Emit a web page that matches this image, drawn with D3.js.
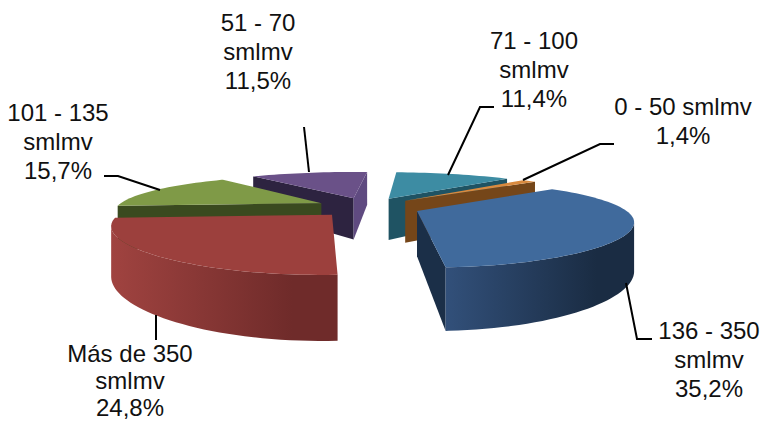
<!DOCTYPE html>
<html>
<head>
<meta charset="utf-8">
<script src="https://cdn.jsdelivr.net/npm/d3@7"></script>
<style>
  html, body { margin: 0; padding: 0; background: #fff; }
  svg { display: block; }
  text { font-family: "Liberation Sans", Arial, sans-serif; font-size: 24px; fill: #111; }
</style>
</head>
<body>
<svg id="chart" width="762" height="421"></svg>
<script>
// Salary bands, clockwise from the first slice of the pie
const categories = ["136 - 350 smlmv", "Más de 350 smlmv", "101 - 135 smlmv", "51 - 70 smlmv", "71 - 100 smlmv", "0 - 50 smlmv"];
const shares = [35.2, 24.8, 15.7, 11.5, 11.4, 1.4];
const labelLines = [
  ["136 - 350", "smlmv", "35,2%"],
  ["Más de 350", "smlmv", "24,8%"],
  ["101 - 135", "smlmv", "15,7%"],
  ["51 - 70", "smlmv", "11,5%"],
  ["71 - 100", "smlmv", "11,4%"],
  ["0 - 50 smlmv", "1,4%"]
];
const topColors = ["#406a9c", "#9c403d", "#7f9a47", "#6a5188", "#3d8ca3", "#d98a3f"];
const wallLight = ["#32507a", "#a04340", "#3a4a1f", "#2d2340", "#235a6b", "#754619"];
const wallDark  = ["#1a2c43", "#6f2b2a", "#3a4a1f", "#2d2340", "#1f4e5d", "#754619"];
// Radial wall that closes each slice on its clockwise side
const endWall   = ["#1b2f48", "#6f2b2a", "#3a4a1f", "#5f4a80", "#1f5363", "#754619"];

// Callout placement: label centre, first baseline, line gap and leader polyline
const labelLayout = [
  { x: 709, y: 339, gap: 29,   leader: [[626, 283], [637, 339], [652, 339]] },
  { x: 130, y: 362, gap: 27,   leader: [[156, 315], [156, 340]] },
  { x: 58,  y: 121, gap: 29,   leader: [[160, 190], [118, 176], [104, 176]] },
  { x: 258, y: 31,  gap: 29,   leader: [[309, 172], [304, 127]] },
  { x: 534, y: 49,  gap: 29,   leader: [[448, 175], [480, 107], [494, 107]] },
  { x: 683, y: 115, gap: 29,   leader: [[523, 180], [600, 144], [614, 144]] }
];

const svg = d3.select("#chart");
const defs = svg.append("defs");

// Ground-plane perspective: the disc has radius 1, Y points at the viewer
const view = { cx: 368, cy: 207, w: 205, h: 38, perspX: 0.21, perspY: 0.28, depth: 44, explode: 0.255 };
const firstAngle = 50 * Math.PI / 180;
const rimStep = Math.PI / 90;

const project = (X, Y, drop = 0) => {
  const kx = 1 / (1 - view.perspX * Y);
  const ky = 1 / (1 - view.perspY * Y);
  return [
    view.cx + view.w * X * kx,
    view.cy + view.h * Y * ky + drop * view.depth * ky
  ];
};

const pie = d3.pie().sort(null).startAngle(firstAngle).endAngle(firstAngle + 2 * Math.PI);
const slices = pie(shares).map((s, i) => {
  const mid = (s.startAngle + s.endAngle) / 2;
  const ox = view.explode * Math.sin(mid);
  const oy = -view.explode * Math.cos(mid);
  const angles = d3.range(s.startAngle, s.endAngle, rimStep).concat(s.endAngle);
  const rim = angles.map(a => [ox + Math.sin(a), oy - Math.cos(a)]);
  return { i, apex: [ox, oy], rim };
});

const line = d3.line();
const wallPath = pts => {
  const upper = pts.map(p => project(p[0], p[1]));
  const lower = pts.map(p => project(p[0], p[1], 1)).reverse();
  return line(upper.concat(lower)) + "Z";
};

// Slices are painted from the far side of the pie to the near side
const paintOrder = [3, 4, 2, 5, 0, 1];

paintOrder.forEach(idx => {
  const s = slices[idx];
  const g = svg.append("g").attr("class", "slice");
  const xs = s.rim.map(p => project(p[0], p[1])[0]);

  const grad = defs.append("linearGradient")
    .attr("id", "wall" + idx)
    .attr("gradientUnits", "userSpaceOnUse")
    .attr("x1", d3.min(xs)).attr("x2", d3.max(xs))
    .attr("y1", 0).attr("y2", 0);
  grad.append("stop").attr("offset", 0).attr("stop-color", wallLight[idx]);
  grad.append("stop").attr("offset", 0.8).attr("stop-color", wallDark[idx]);

  // An edge walked clockwise on screen faces the viewer when it runs leftward
  const faces = (a, b) => project(b[0], b[1])[0] < project(a[0], a[1])[0];

  const first = s.rim[0], last = s.rim[s.rim.length - 1];
  if (faces(s.apex, first)) {
    g.append("path").attr("d", wallPath([s.apex, first])).attr("fill", wallLight[idx]);
  }
  if (faces(last, s.apex)) {
    g.append("path").attr("d", wallPath([last, s.apex])).attr("fill", endWall[idx]);
  }

  // Curved outer wall: only the run of rim that faces the viewer
  const run = s.rim.filter((p, k) =>
    (k > 0 && faces(s.rim[k - 1], p)) || (k < s.rim.length - 1 && faces(p, s.rim[k + 1])));
  if (run.length > 1) {
    g.append("path").attr("d", wallPath(run)).attr("fill", `url(#wall${idx})`);
  }

  const top = [s.apex, ...s.rim].map(p => project(p[0], p[1]));
  g.append("path").attr("d", line(top) + "Z").attr("fill", topColors[idx]);
});

// Leaders and callout text
labelLayout.forEach((lay, i) => {
  svg.append("path")
    .attr("d", line(lay.leader))
    .attr("fill", "none").attr("stroke", "#000").attr("stroke-width", 2);
  const t = svg.append("text").attr("text-anchor", "middle").attr("aria-label", categories[i]);
  labelLines[i].forEach((txt, j) => {
    t.append("tspan").attr("x", lay.x).attr("y", lay.y + j * lay.gap).text(txt);
  });
});
</script>
</body>
</html>
